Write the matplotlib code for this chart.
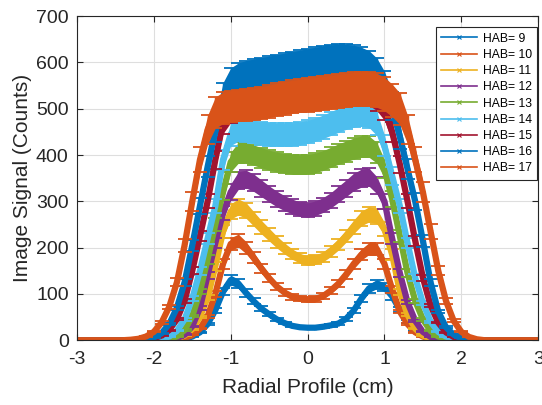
import numpy as np
import matplotlib
matplotlib.use("Agg")
import matplotlib.pyplot as plt
from matplotlib.lines import Line2D

plt.rcParams['font.family'] = ['Liberation Sans', 'DejaVu Sans']
plt.rcParams['axes.unicode_minus'] = False

# radial position of each sample (cm)
radius = np.round(np.arange(-3.0, 3.01, 0.1), 1)

# mean image signal (counts) at each height above burner
hab9 = [0, 0, 0, 0, 0, 0, 0, 0, 0, 0,
        0, 0, 0, 1, 3, 8, 17, 35, 65, 105,
        130, 122, 102, 84, 68, 56, 45, 37, 31, 28,
        27, 27, 29, 32, 36, 46, 64, 90, 112, 121,
        115, 95, 66, 40, 21, 10, 4, 1, 0, 0,
        0, 0, 0, 0, 0, 0, 0, 0, 0, 0, 0]
hab10 = [0, 0, 0, 0, 0, 0, 0, 0, 0, 0,
         0, 0, 0, 2, 5, 11, 25, 52, 100, 165,
         208, 215, 200, 178, 155, 134, 116, 103, 94, 90,
         88, 89, 95, 107, 122, 142, 165, 185, 198, 197,
         165, 110, 62, 35, 17, 8, 3, 1, 0, 0,
         0, 0, 0, 0, 0, 0, 0, 0, 0, 0, 0]
hab11 = [0, 0, 0, 0, 0, 0, 0, 0, 0, 0,
         0, 0, 1, 4, 10, 24, 50, 92, 160, 235,
         278, 288, 280, 262, 244, 228, 212, 198, 186, 177,
         172, 174, 180, 192, 207, 225, 245, 263, 272, 268,
         240, 185, 105, 55, 25, 10, 4, 1, 0, 0,
         0, 0, 0, 0, 0, 0, 0, 0, 0, 0, 0]
hab12 = [0, 0, 0, 0, 0, 0, 0, 0, 0, 0,
         0, 0, 1, 4, 12, 30, 70, 140, 210, 275,
         320, 345, 348, 340, 328, 316, 305, 296, 289, 283,
         281, 285, 292, 302, 315, 328, 342, 350, 352, 335,
         300, 220, 145, 82, 42, 18, 7, 2, 0, 0,
         0, 0, 0, 0, 0, 0, 0, 0, 0, 0, 0]
hab13 = [0, 0, 0, 0, 0, 0, 0, 0, 0, 0,
         0, 1, 3, 8, 22, 52, 105, 175, 250, 320,
         385, 405, 405, 400, 394, 389, 385, 382, 380, 379,
         380, 383, 388, 395, 402, 408, 414, 418, 418, 405,
         370, 305, 225, 145, 85, 45, 20, 8, 3, 1,
         0, 0, 0, 0, 0, 0, 0, 0, 0, 0, 0]
hab14 = [0, 0, 0, 0, 0, 0, 0, 0, 0, 0,
         1, 3, 8, 20, 45, 90, 150, 220, 290, 390,
         445, 455, 453, 450, 447, 445, 444, 444, 445, 447,
         450, 455, 461, 468, 475, 482, 487, 489, 486, 468,
         420, 355, 290, 210, 135, 80, 40, 18, 8, 3,
         1, 0, 0, 0, 0, 0, 0, 0, 0, 0, 0]
hab15 = [0, 0, 0, 0, 0, 0, 0, 0, 0, 1,
         4, 10, 22, 45, 85, 150, 225, 300, 390, 470,
         495, 502, 504, 506, 509, 512, 516, 519, 522, 524,
         526, 528, 530, 532, 534, 536, 537, 537, 534, 522,
         500, 450, 380, 300, 215, 135, 75, 38, 17, 7,
         2, 0, 0, 0, 0, 0, 0, 0, 0, 0, 0]
hab16 = [0, 0, 0, 0, 0, 0, 0, 0, 0, 2,
         6, 15, 35, 70, 125, 205, 290, 375, 455, 525,
         555, 565, 570, 573, 576, 579, 582, 585, 588, 591,
         594, 597, 600, 602, 603, 603, 601, 597, 590, 575,
         548, 505, 440, 370, 300, 215, 125, 62, 28, 12,
         4, 1, 0, 0, 0, 0, 0, 0, 0, 0, 0]
hab17 = [0, 0, 0, 0, 0, 0, 0, 1, 3, 8,
         18, 38, 72, 125, 205, 300, 390, 455, 492, 502,
         505, 507, 508, 510, 513, 516, 520, 523, 526, 528,
         530, 532, 534, 536, 538, 540, 542, 543, 543, 540,
         532, 518, 500, 455, 390, 320, 235, 150, 85, 42,
         18, 7, 2, 0, 0, 0, 0, 0, 0, 0, 0]

profiles = [hab9, hab10, hab11, hab12, hab13, hab14, hab15, hab16, hab17]
labels = ['HAB= 9', 'HAB= 10', 'HAB= 11', 'HAB= 12', 'HAB= 13',
          'HAB= 14', 'HAB= 15', 'HAB= 16', 'HAB= 17']
# relative uncertainty of each profile
rel_err = [0.08, 0.065, 0.06, 0.055, 0.055, 0.055, 0.05, 0.06, 0.068]

colors = ['#0072BD', '#D95319', '#EDB120', '#7E2F8E', '#77AC30',
          '#4DBEEE', '#A2142F', '#0072BD', '#D95319']

fig = plt.figure(figsize=(5.42, 4.05), dpi=100)
ax = fig.add_axes([0.142, 0.160, 0.851, 0.800])

handles = []
for i, (prof, lab, r, c) in enumerate(zip(profiles, labels, rel_err, colors)):
    y = np.array(prof, dtype=float)
    err = y * r
    z = 2 + i
    ax.fill_between(radius, y - err, y + err, color=c, lw=0, zorder=z)
    ax.plot(radius, y, color=c, lw=4.5, zorder=z)
    ax.errorbar(radius, y, yerr=err, color=c, lw=1, elinewidth=1,
                capsize=5, capthick=1.3, marker='x', ms=2, zorder=z)
    handles.append(Line2D([], [], color=c, lw=1.2, marker='x', ms=2.5,
                          mew=0.8, label=lab))

ax.set_xlim(-3, 3)
ax.set_ylim(0, 700)
ax.set_xticks(np.arange(-3, 4, 1))
ax.set_yticks(np.arange(0, 701, 100))
ax.set_axisbelow(True)
ax.grid(True, color='#dedede', lw=0.8)

dark = '#262626'
ax.tick_params(direction='in', top=True, right=True, length=4, width=0.8,
               colors=dark, labelsize=14)
ax.tick_params(axis='x', pad=8)
ax.tick_params(axis='y', pad=6)
for s in ax.spines.values():
    s.set_color(dark)
    s.set_linewidth(0.8)
    s.set_zorder(20)

ax.set_xlabel('Radial Profile (cm)', fontsize=15, color=dark, labelpad=7)
ax.set_ylabel('Image Signal (Counts)', fontsize=15, color=dark, labelpad=3)

leg = ax.legend(handles=handles, loc='upper right',
                bbox_to_anchor=(0.998, 0.966), borderaxespad=0,
                fontsize=8.7, handlelength=3.0, handletextpad=0.45,
                labelspacing=0.35, borderpad=0.45,
                fancybox=False, framealpha=1, edgecolor=dark)
leg.get_frame().set_linewidth(0.8)
leg.set_zorder(30)

fig.savefig('out.png', dpi=100)
